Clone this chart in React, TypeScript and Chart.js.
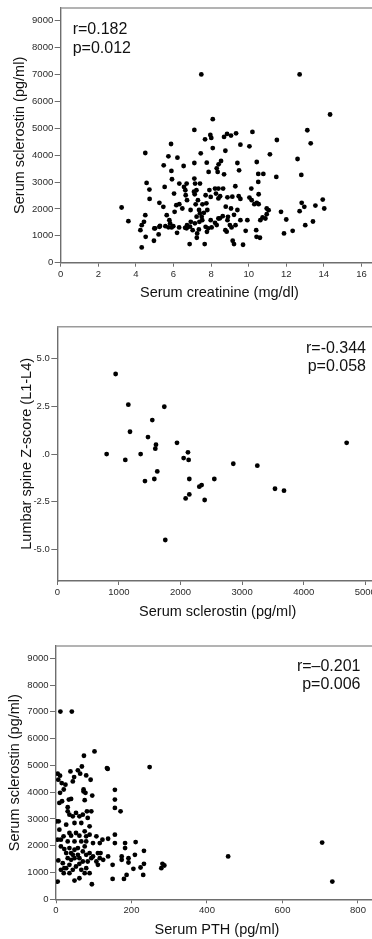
import React, { useEffect, useRef } from 'react';
import { Chart, registerables } from 'chart.js';

Chart.register(...registerables);

// ---------- Panel 1: creatinine vs sclerostin ----------
const creatinine = [
  7.48, 12.71, 14.33, 8.09, 7.11, 13.12, 7.68, 7.96, 8.01, 8.69, 8.85, 9.06, 9.33, 10.2, 11.5, 13.3, 5.87, 9.56, 10.04, 8.09, 8.76,
  4.5, 5.73, 6.21, 7.45, 11.13, 12.6, 5.48, 6.54, 7.11, 7.77, 8.4, 8.53, 8.3, 7.87, 8.35, 9.4, 9.49, 10.43, 10.51, 10.51, 10.78,
  11.47, 12.8, 8.69, 5.89, 5.92, 4.57, 4.72, 4.73, 5.53, 6.03, 6.31, 6.56, 6.7, 6.63, 7.11, 7.15, 7.41, 7.22, 6.65, 6.72, 7.13,
  7.3, 7.71, 7.98, 8.21, 8.39, 8.26, 8.48, 8.64, 9.29, 10.14, 10.04, 9.47, 9.56, 10.16, 10.3, 10.43, 10.53, 10.53, 3.24, 3.6,
  4.31, 4.43, 4.5, 4.24, 4.52, 4.31, 4.96, 4.98, 5.21, 5.25, 5.25, 5.46, 5.64, 6.06, 6.15, 6.47, 6.31, 5.57, 5.78, 5.82, 5.9,
  5.99, 6.19, 6.3, 6.62, 6.72, 6.86, 6.92, 7.02, 7.26, 7.24, 7.35, 7.38, 7.5, 7.62, 7.53, 7.71, 7.78, 7.66, 7.98, 8.03, 8.21,
  8.39, 8.62, 8.87, 8.76, 9.06, 8.9, 9.09, 9.22, 9.3, 9.15, 9.22, 9.7, 9.56, 9.84, 9.93, 10.4, 10.42, 10.6, 10.62, 10.74, 10.89,
  10.96, 10.96, 11.06, 11.72, 12.0, 11.88, 12.34, 12.71, 12.82, 12.96, 13.01, 13.42, 13.55, 13.94, 14.02, 7.23, 7.41, 7.14,
  6.88, 6.7, 5.73, 5.28, 5.02, 7.85, 8.47, 8.3, 9.0, 8.83, 7.09, 7.91, 8.39, 8.87, 7.18, 7.54, 7.75, 6.91, 7.36, 7.8, 8.78,
  9.13, 9.4,
];
const sclerostinA = [
  7000, 7000, 5511, 5337, 4938, 4925, 4589, 4750, 4640, 4676, 4788, 4726, 4813, 4863, 4563, 4439, 4414, 4389, 4327, 4264, 4164,
  4079, 3955, 3906, 4067, 4030, 3856, 3622, 3597, 3708, 3721, 3659, 3782, 3510, 3375, 3375, 3708, 3436, 3745, 3300, 3004, 3300,
  3189, 3263, 3288, 3412, 3103, 2967, 2719, 2373, 2818, 2571, 2942, 2818, 2942, 2695, 3127, 2942, 2942, 2695, 2509, 2324, 2546,
  2324, 2509, 2447, 2756, 2756, 2571, 2472, 2756, 2843, 2756, 2423, 2472, 2373, 2324, 2175, 2225, 2175, 2546, 2052, 1545,
  1397, 1520, 1768, 1211, 964, 569, 816, 1273, 1051, 1335, 2225, 2077, 1768, 1891, 2138, 2015, 2175, 1360, 1582, 1459, 1310,
  1360, 1112, 1310, 1298, 1397, 692, 1520, 1211, 1088, 927, 1236, 1520, 1706, 1854, 1582, 1335, 1150, 692, 1582, 1310, 1483,
  1644, 1731, 1582, 1211, 2015, 1706, 1310, 1780, 1397, 816, 692, 667, 1582, 1187, 1582, 1211, 964, 927, 1582, 1681, 1644,
  1805, 2015, 1953, 1891, 1607, 1088, 1187, 1916, 2225, 2077, 1397, 1533, 2126, 2349, 2015, 1710, 1836, 1465,
  1338, 1279, 1316, 1364, 1279, 1279, 1650, 1401, 1401, 1153, 2640, 2702, 2392, 2430, 2170, 2170, 2207, 1959, 1959, 1959, 2083,
  2455, 1959,
];
const xTicks1 = [0, 2, 4, 6, 8, 10, 12, 14, 16];
const xLabels1 = ['0', '2', '4', '6', '8', '10', '12', '14', '16'];
const yTicks1 = [0, 1000, 2000, 3000, 4000, 5000, 6000, 7000, 8000, 9000];
const yLabels1 = ['0', '1000', '2000', '3000', '4000', '5000', '6000', '7000', '8000', '9000'];
const stats1 = ['r=0.182', 'p=0.012'];

// ---------- Panel 2: sclerostin vs lumbar spine Z-score ----------
const sclerostinB = [
  947, 1153, 1737, 1542, 1180, 1472, 1602, 1591, 1943, 801, 1104, 1353, 2121, 2051, 2132, 1623, 1423, 1575, 2143, 2549, 2343,
  2305, 2143, 2083, 2392, 2857, 3247, 3534, 3680, 4697, 1753,
];
const zScore = [
  4.2, 2.59, 2.48, 1.78, 1.17, 0.89, 0.49, 0.28, 0.59, 0, -0.31, 0, 0.09, -0.21, -0.31, -0.91, -1.42, -1.31, -1.31, -1.31, -1.63,
  -1.71, -2.12, -2.33, -2.41, -0.51, -0.61, -1.82, -1.92, 0.59, -4.51,
];
const xTicks2 = [0, 1000, 2000, 3000, 4000, 5000];
const xLabels2 = ['0', '1000', '2000', '3000', '4000', '5000'];
const yTicks2 = [-5, -2.5, 0, 2.5, 5];
const yLabels2 = ['-5.0', '-2.5', '.0', '2.5', '5.0'];
const stats2 = ['r=-0.344', 'p=0.058'];

// ---------- Panel 3: PTH vs sclerostin ----------
const pth = [
  11.6, 41.9, 102, 74, 248, 135, 137, 68.6, 57.9, 38.3, 64, 80, 48, 44.5, 91.7, 4.5, 10.7, 6.2, 15.1, 25, 156, 73,
  10.7, 20.5, 73, 78, 96, 156, 156, 171, 8.9, 16, 34, 40, 76, 7.1, 1.8, 31, 31, 35.6, 44.5, 53, 62, 71, 82, 93.5, 84, 49, 67,
  89, 8.9, 27, 35.6, 40, 53, 62, 76, 80, 89, 107, 13, 4.5, 20, 31, 49, 67, 80, 98, 116, 123, 138, 156, 156, 183, 183, 211,
  13, 22, 27, 35.6, 40, 49, 58, 71, 76, 89, 98, 111, 118, 116, 138, 174, 174, 192, 192, 209, 233, 233, 224, 205, 231, 282,
  287, 279, 456, 705, 732, 150, 180, 187, 150, 49, 62, 4.5, 95, 6.2, 18, 27, 35.6, 44.5, 53, 62, 71, 80, 89, 13, 20.5, 31,
  40, 49, 62, 84, 93.5, 107, 111, 125, 44.5, 58, 67, 76, 35.6, 22, 80,
];
const sclerostinC = [
  7012, 7012, 5522, 5361, 4938, 4900, 4870, 4960, 4816, 4776, 4690, 4627, 4565, 4403, 4465, 4690, 4616, 4466, 4341, 4280, 4089, 4027,
  3975, 4100, 4100, 3975, 3875, 3725, 3412, 3287, 3600, 3662, 3725, 3750, 3700, 2912, 2912, 3437, 3287, 3162, 3100, 3225, 3100,
  3162, 3287, 3287, 3037, 2850, 2850, 2725, 2600, 2787, 2475, 2375, 2475, 2375, 2537, 2350, 2412, 2350, 2225, 2225, 2350, 2162,
  2162, 2162, 2162, 2100, 2100, 2225, 2262, 2412, 2100, 2100, 1912, 2137, 1975, 1875, 1725, 1912, 1725, 1850, 1912, 1787, 1975,
  1725, 1600, 1725, 1725, 1537, 1600, 1600, 1475, 1537, 1375, 1662, 1812, 1325, 1187, 1137, 912, 1325, 1262, 1162, 1600, 2120,
  662, 762, 762, 912, 1287, 700, 787, 662, 562, 1450, 1350, 1162, 1287, 1100, 1225, 1325, 1412, 1162, 975, 1100, 975, 1537,
  1475, 1537, 1537, 1412, 1537, 1412, 1287, 1475, 1662, 1662, 1100, 975, 975, 1162, 1662,
];
const xTicks3 = [0, 200, 400, 600, 800];
const xLabels3 = ['0', '200', '400', '600', '800'];
const stats3 = ['r=\u20130.201', 'p=0.006'];

const FONT = '"Liberation Sans", Arial, Helvetica, sans-serif';
const CANVAS_W = 378;

type PanelCfg = {
  top: number;
  height: number;
  padTop: number;
  yWidth: number;
  xHeight: number;
  xMin: number;
  xMax: number;
  yMin: number;
  yMax: number;
  xs: number[];
  ys: number[];
  xTicks: number[];
  xLabels: string[];
  yTicks: number[];
  yLabels: string[];
  xTitle: string;
  yTitle: string;
  xTitlePad: number;
  yTitlePad: number;
  stats: string[];
  statsX: number;
  statsY: number[];
  statsAlign: CanvasTextAlign;
};

const panels: PanelCfg[] = [
  {
    top: 0, height: 305, padTop: 8, yWidth: 60.7, xHeight: 42.3,
    xMin: 0, xMax: 16.88, yMin: 0, yMax: 9472,
    xs: creatinine, ys: sclerostinA,
    xTicks: xTicks1, xLabels: xLabels1, yTicks: yTicks1, yLabels: yLabels1,
    xTitle: 'Serum creatinine (mg/dl)', yTitle: 'Serum sclerostin (pg/ml)',
    xTitlePad: 3.3, yTitlePad: 11.3,
    stats: stats1, statsX: 72.7, statsY: [29.3, 48.3], statsAlign: 'left',
  },
  {
    top: 305, height: 320, padTop: 21.7, yWidth: 57.3, xHeight: 44,
    xMin: 0, xMax: 5206, yMin: -6.66, yMax: 6.68,
    xs: sclerostinB, ys: zScore,
    xTicks: xTicks2, xLabels: xLabels2, yTicks: yTicks2, yLabels: yLabels2,
    xTitle: 'Serum sclerostin (pg/ml)', yTitle: 'Lumbar spine Z-score (L1-L4)',
    xTitlePad: 4.3, yTitlePad: 18.3,
    stats: stats2, statsX: 366, statsY: [348.3 - 305, 366.3 - 305], statsAlign: 'right',
  },
  {
    top: 625, height: 314, padTop: 21, yWidth: 56, xHeight: 39.7,
    xMin: 0, xMax: 853, yMin: 0, yMax: 9459,
    xs: pth, ys: sclerostinC,
    xTicks: xTicks3, xLabels: xLabels3, yTicks: yTicks1, yLabels: yLabels1,
    xTitle: 'Serum PTH (pg/ml)', yTitle: 'Serum sclerostin (pg/ml)',
    xTitlePad: 0.8, yTitlePad: 6.3,
    stats: stats3, statsX: 360.5, statsY: [666.3 - 625, 684.5 - 625], statsAlign: 'right',
  },
];

function Panel({ cfg }: { cfg: PanelCfg }) {
  const ref = useRef<HTMLCanvasElement | null>(null);
  useEffect(() => {
    if (!ref.current) return;
    const axisColor = '#6e6e6e';
    const tickFont = { family: FONT, size: 9.5 };
    const titleFont = { family: FONT, size: 14.5 };
    const framePlugin = {
      id: 'frameAndStats',
      afterDraw(chart: any) {
        const { ctx, chartArea } = chart;
        ctx.save();
        ctx.strokeStyle = '#9a9a9a';
        ctx.lineWidth = 1.4;
        ctx.beginPath();
        ctx.moveTo(chartArea.left, chartArea.top);
        ctx.lineTo(chartArea.right, chartArea.top);
        ctx.lineTo(chartArea.right, chartArea.bottom);
        ctx.stroke();
        ctx.fillStyle = '#111';
        ctx.font = `16px ${FONT}`;
        ctx.textAlign = cfg.statsAlign;
        ctx.textBaseline = 'middle';
        cfg.stats.forEach((s, i) => ctx.fillText(s, cfg.statsX, cfg.statsY[i]));
        ctx.restore();
      },
    };
    const chart = new Chart(ref.current, {
      type: 'scatter',
      data: {
        datasets: [
          {
            data: cfg.xs.map((x, i) => ({ x, y: cfg.ys[i] })),
            pointRadius: 2.4,
            pointHoverRadius: 2.4,
            pointBackgroundColor: '#000',
            pointBorderWidth: 0,
            showLine: false,
          },
        ],
      },
      options: {
        animation: false,
        responsive: false,
        devicePixelRatio: 1,
        layout: { padding: { top: cfg.padTop, left: 0, right: 0, bottom: 0 }, autoPadding: false },
        plugins: { legend: { display: false }, tooltip: { enabled: false } },
        scales: {
          x: {
            type: 'linear',
            min: cfg.xMin,
            max: cfg.xMax,
            afterFit: (s: any) => { s.height = cfg.xHeight; },
            afterBuildTicks: (s: any) => { s.ticks = cfg.xTicks.map((v) => ({ value: v })); },
            ticks: {
              autoSkip: false,
              maxRotation: 0,
              padding: 1.5,
              color: '#2a2a2a',
              font: tickFont,
              callback: (v: any) => cfg.xLabels[cfg.xTicks.indexOf(Number(v))] ?? '',
            },
            grid: { display: true, drawOnChartArea: false, drawTicks: true, tickLength: 4, color: axisColor, lineWidth: 1 },
            border: { display: true, color: axisColor, width: 1.4 },
            title: { display: true, text: cfg.xTitle, color: '#111', font: titleFont, padding: { top: 0, bottom: cfg.xTitlePad } },
          },
          y: {
            type: 'linear',
            min: cfg.yMin,
            max: cfg.yMax,
            afterFit: (s: any) => { s.width = cfg.yWidth; },
            afterBuildTicks: (s: any) => { s.ticks = cfg.yTicks.map((v) => ({ value: v })); },
            ticks: {
              autoSkip: false,
              padding: 1.5,
              color: '#2a2a2a',
              font: tickFont,
              callback: (v: any) => cfg.yLabels[cfg.yTicks.indexOf(Number(v))] ?? '',
            },
            grid: { display: true, drawOnChartArea: false, drawTicks: true, tickLength: 6, color: axisColor, lineWidth: 1 },
            border: { display: true, color: axisColor, width: 1.4 },
            title: { display: true, text: cfg.yTitle, color: '#111', font: titleFont, padding: { top: cfg.yTitlePad, bottom: 0 } },
          },
        },
      },
      plugins: [framePlugin],
    } as any);
    return () => chart.destroy();
  }, [cfg]);
  return (
    <canvas
      ref={ref}
      width={CANVAS_W}
      height={cfg.height}
      style={{ position: 'absolute', left: 0, top: cfg.top, width: CANVAS_W, height: cfg.height }}
    />
  );
}

export default function App() {
  return (
    <div
      style={{
        position: 'fixed',
        left: 0,
        top: 0,
        width: 372,
        height: 939,
        overflow: 'hidden',
        background: '#fff',
      }}
    >
      {panels.map((p, i) => (
        <Panel key={i} cfg={p} />
      ))}
    </div>
  );
}
